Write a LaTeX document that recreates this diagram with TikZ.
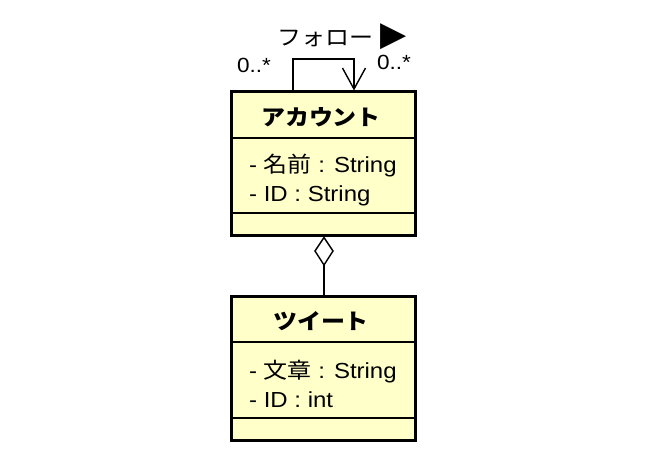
\documentclass[tikz,border=0pt]{standalone}
\usepackage{fontspec}
\setmainfont{Liberation Sans}[FakeStretch=1.1]
\newfontfamily\jp{Noto Sans CJK JP}[FakeStretch=1.1]
\newfontfamily\sym{DejaVu Sans}
\usetikzlibrary{arrows.meta}
\definecolor{boxfill}{HTML}{FFFFCA}
\tikzset{
  x=1pt, y=-1pt,
  classbox/.style={draw=black, line width=3pt, fill=boxfill, minimum width=184pt, minimum height=144pt, inner sep=0pt},
  sepline/.style={line width=1.4pt},
  conn/.style={line width=1.4pt},
  title/.style={font=\jp\bfseries\fontsize{21.8}{26}\selectfont, inner sep=0pt},
  attr/.style={font=\fontsize{21.8}{26}\selectfont, inner sep=0pt, anchor=base west},
  mult/.style={font=\fontsize{20.5}{24}\selectfont, inner sep=0pt},
}
\begin{document}
\begin{tikzpicture}
\useasboundingbox (0,0) rectangle (654,468);
% Account
\node[classbox] (acc) at (323,164) {};
\draw[sepline] (231,138) -- (415,138);
\draw[sepline] (231,213) -- (415,213);
\node[title] (acct) at (321,117) {アカウント};
\node[attr] (acc1) at (249,173) {- {\jp 名前} : String};
\node[attr] (acc2) at (249,202) {- ID : String};
% Tweet
\node[classbox] (tw) at (323,368) {};
\draw[sepline] (231,342) -- (415,342);
\draw[sepline] (231,418) -- (415,418);
\node[title] (twt) at (321,321) {ツイート};
\node[attr] (tw1) at (249,378) {- {\jp 文章} : String};
\node[attr] (tw2) at (249,407) {- ID : int};
% self association
\coordinate (l0) at (293,90.5);
\coordinate (l1) at (293,59);
\coordinate (l2) at (354,59);
\coordinate (l3) at (354,90.5);
\draw[conn, -{Straight Barb[length=21pt,width=23pt,line width=1.4pt]}] (l0) -- (l1) -- (l2) -- (l3);
\node[font=\fontsize{21.8}{26}\selectfont, inner sep=0pt] (follow) at (342,37) {{\jp フォロー} {\sym\fontsize{34}{34}\selectfont ▶}};
\node[mult] (m1) at (254,65) {0..*};
\node[mult] (m2) at (394,62) {0..*};
% aggregation
\coordinate (dtop) at (324,237.5);
\coordinate (dl) at (315,251);
\coordinate (db) at (324,265);
\coordinate (dr) at (333,251);
\coordinate (twtop) at (324,294.5);
\draw[conn, fill=white] (dtop) -- (dl) -- (db) -- (dr) -- cycle;
\draw[conn] (db) -- (twtop);
\end{tikzpicture}
\end{document}
